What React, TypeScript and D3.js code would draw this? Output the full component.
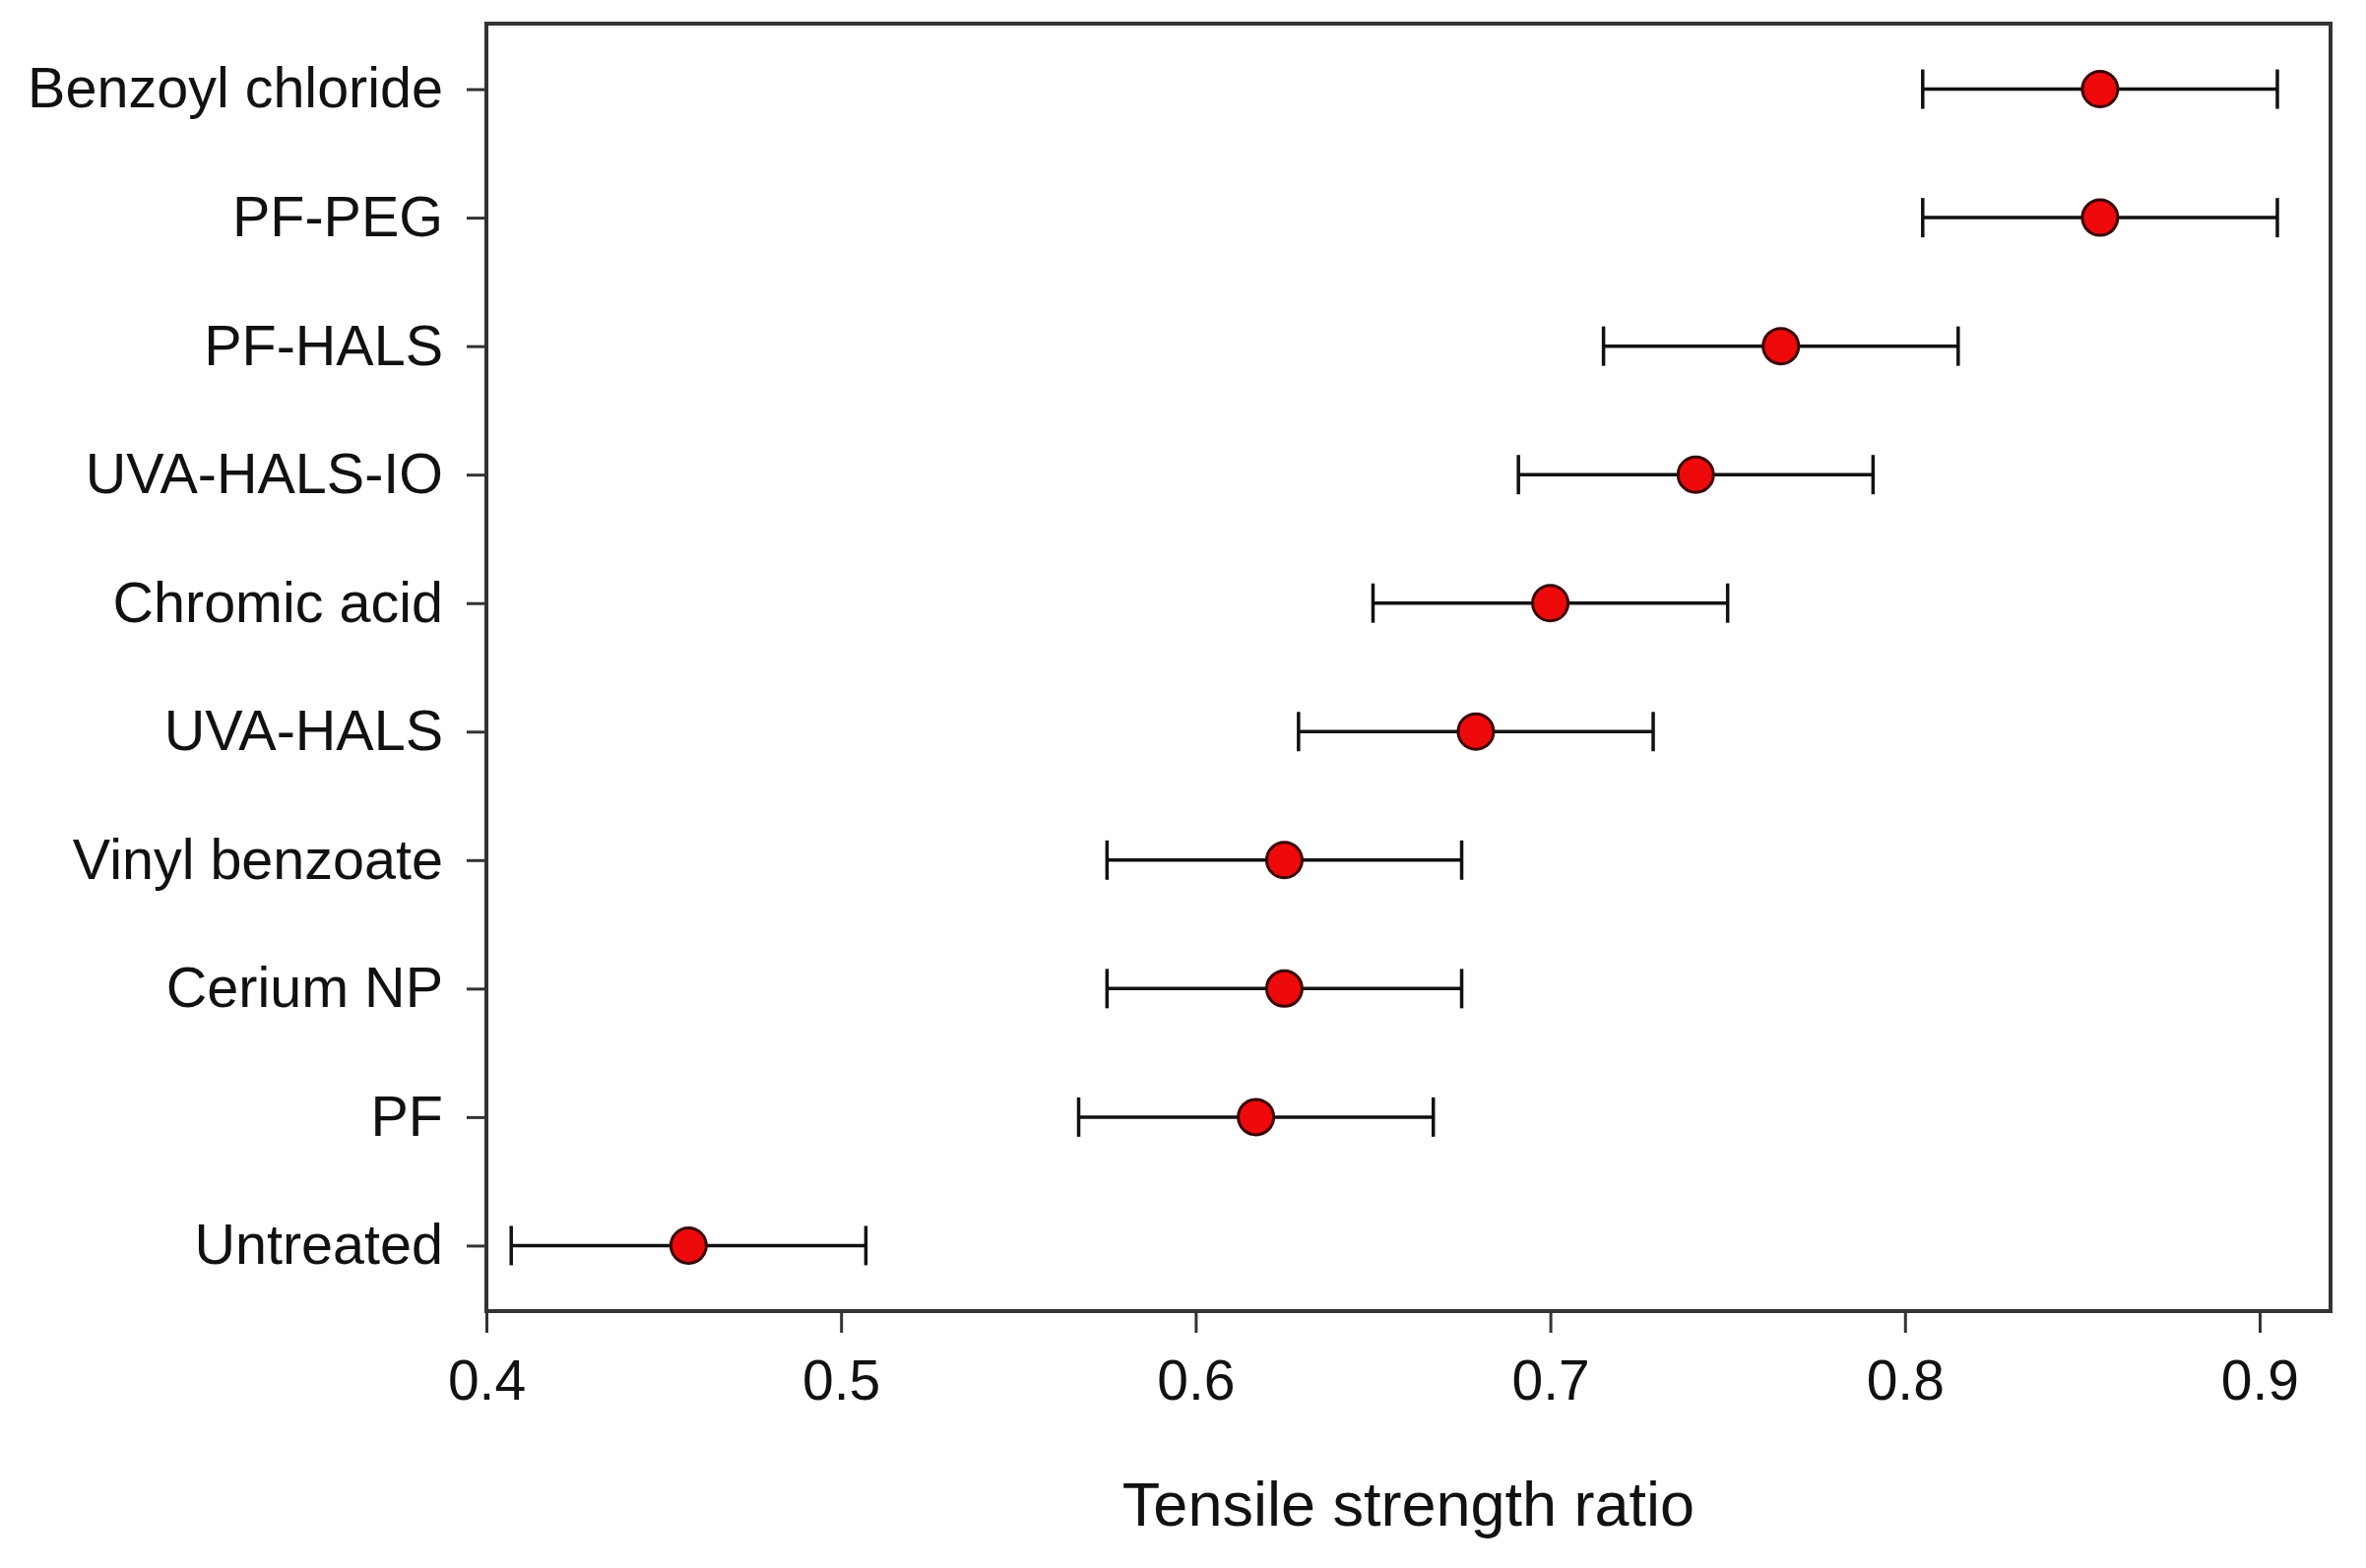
import { useEffect, useRef } from 'react';
import * as d3 from 'd3';

const categories = [
  'Benzoyl chloride',
  'PF-PEG',
  'PF-HALS',
  'UVA-HALS-IO',
  'Chromic acid',
  'UVA-HALS',
  'Vinyl benzoate',
  'Cerium NP',
  'PF',
  'Untreated',
];
const means = [0.855, 0.855, 0.765, 0.741, 0.7, 0.679, 0.625, 0.625, 0.617, 0.457];
const lower = [0.805, 0.805, 0.715, 0.691, 0.65, 0.629, 0.575, 0.575, 0.567, 0.407];
const upper = [0.905, 0.905, 0.815, 0.791, 0.75, 0.729, 0.675, 0.675, 0.667, 0.507];
const xTicks = [0.4, 0.5, 0.6, 0.7, 0.8, 0.9];

const W = 2403;
const H = 1593;

export default function App() {
  const svgRef = useRef<SVGSVGElement>(null);

  useEffect(() => {
    if (!svgRef.current) return;
    const svg = d3.select(svgRef.current);
    svg.selectAll('*').remove();

    const left = 494;
    const right = 2367;
    const top = 24;
    const bottom = 1332;
    const font = '"Liberation Sans", Arial, sans-serif';
    const axisColor = '#333';

    const x = d3.scaleLinear().domain([0.4, 0.92]).range([left, right]);
    const y = d3.scalePoint<string>().domain(categories).range([top, bottom]).padding(0.51);

    svg.append('rect').attr('width', W).attr('height', H).attr('fill', '#fff');

    // frame
    svg
      .append('rect')
      .attr('x', left)
      .attr('y', top)
      .attr('width', right - left)
      .attr('height', bottom - top)
      .attr('fill', 'none')
      .attr('stroke', axisColor)
      .attr('stroke-width', 4);

    // x axis
    const xAxis = svg
      .append('g')
      .attr('transform', `translate(0,${bottom})`)
      .call(
        d3
          .axisBottom(x)
          .tickValues(xTicks)
          .tickSize(22)
          .tickPadding(28)
          .tickFormat(d3.format('.1f'))
      );
    xAxis.select('.domain').remove();
    xAxis.selectAll('line').attr('stroke', axisColor).attr('stroke-width', 3);
    xAxis
      .selectAll('text')
      .attr('fill', '#111')
      .style('font-family', font)
      .style('font-size', '57px');

    // y axis
    const yAxis = svg
      .append('g')
      .attr('transform', `translate(${left},0)`)
      .call(d3.axisLeft(y).tickSize(20).tickPadding(24));
    yAxis.select('.domain').remove();
    yAxis.selectAll('line').attr('stroke', axisColor).attr('stroke-width', 3);
    yAxis
      .selectAll('text')
      .attr('fill', '#111')
      .style('font-family', font)
      .style('font-size', '57.5px');

    const rows = categories.map((c, i) => ({
      c,
      m: means[i],
      lo: lower[i],
      hi: upper[i],
    }));

    const g = svg.append('g');

    g.selectAll('.bar')
      .data(rows)
      .join('line')
      .attr('class', 'bar')
      .attr('x1', (d) => x(d.lo))
      .attr('x2', (d) => x(d.hi))
      .attr('y1', (d) => y(d.c) ?? 0)
      .attr('y2', (d) => y(d.c) ?? 0)
      .attr('stroke', '#111')
      .attr('stroke-width', 3.5);

    const capH = 20;
    for (const key of ['lo', 'hi'] as const) {
      g.selectAll(`.cap-${key}`)
        .data(rows)
        .join('line')
        .attr('class', `cap-${key}`)
        .attr('x1', (d) => x(d[key]))
        .attr('x2', (d) => x(d[key]))
        .attr('y1', (d) => (y(d.c) ?? 0) - capH)
        .attr('y2', (d) => (y(d.c) ?? 0) + capH)
        .attr('stroke', '#111')
        .attr('stroke-width', 3.5);
    }

    g.selectAll('circle')
      .data(rows)
      .join('circle')
      .attr('cx', (d) => x(d.m))
      .attr('cy', (d) => y(d.c) ?? 0)
      .attr('r', 18)
      .attr('fill', '#ee0a0a')
      .attr('stroke', '#3a0000')
      .attr('stroke-width', 3);

    svg
      .append('text')
      .attr('x', (left + right) / 2)
      .attr('y', 1550)
      .attr('text-anchor', 'middle')
      .attr('fill', '#111')
      .style('font-family', font)
      .style('font-size', '63px')
      .text('Tensile strength ratio');
  }, []);

  return (
    <svg
      ref={svgRef}
      width={W}
      height={H}
      style={{ position: 'fixed', top: 0, left: 0, display: 'block' }}
    />
  );
}
